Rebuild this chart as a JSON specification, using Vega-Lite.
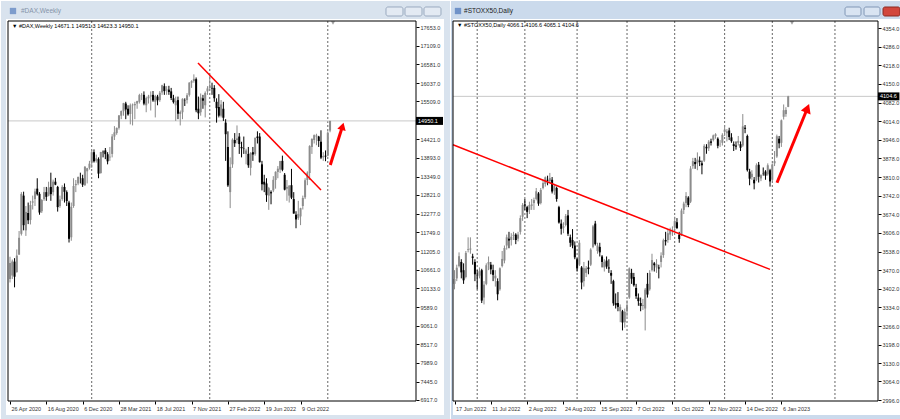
{
"$schema": "https://vega.github.io/schema/vega-lite/v6.json",
"padding": 0,
"autosize": {"type": "pad"},
"background": "#ffffff",
"spacing": 0,
"config": {"view": {"stroke": null}, "axis": {"labelFont": "Liberation Sans", "labelFontSize": 5.5, "labelColor": "#333333", "tickColor": "#000000", "grid": false, "domain": false, "tickSize": 3, "labelFlush": false, "labelOverlap": false}},
"datasets": {
"one": [{"k": 1}],
"dax": [
{"i":0,"o":10400,"h":11040,"l":10300,"c":10861},{"i":1,"o":10500,"h":10960,"l":10400,"c":10904},{"i":2,"o":10900,"h":11000,"l":10160,"c":10465},{"i":3,"o":10600,"h":11250,"l":10580,"c":11074},{"i":4,"o":11100,"h":11780,"l":11100,"c":11586},{"i":5,"o":11700,"h":12900,"l":11650,"c":12848},{"i":6,"o":12800,"h":12913,"l":11800,"c":11949},{"i":7,"o":11800,"h":12500,"l":11640,"c":12331},{"i":8,"o":12300,"h":12600,"l":11980,"c":12089},{"i":9,"o":12100,"h":12650,"l":11970,"c":12528},
{"i":10,"o":12600,"h":12800,"l":12400,"c":12633},{"i":11,"o":12700,"h":13000,"l":12500,"c":12920},{"i":12,"o":13000,"h":13300,"l":12800,"c":12838},{"i":13,"o":12850,"h":12900,"l":12250,"c":12313},{"i":14,"o":12350,"h":12700,"l":12300,"c":12674},{"i":15,"o":12700,"h":13050,"l":12650,"c":12901},{"i":16,"o":12900,"h":13050,"l":12650,"c":12765},{"i":17,"o":12800,"h":13200,"l":12780,"c":13033},{"i":18,"o":13050,"h":13460,"l":12650,"c":12842},{"i":19,"o":12900,"h":13260,"l":12800,"c":13202},
{"i":20,"o":13200,"h":13310,"l":13100,"c":13116},{"i":21,"o":13050,"h":13080,"l":12340,"c":12469},{"i":22,"o":12500,"h":12800,"l":12450,"c":12689},{"i":23,"o":12700,"h":13100,"l":12650,"c":13051},{"i":24,"o":13050,"h":13150,"l":12600,"c":12909},{"i":25,"o":12900,"h":12950,"l":12500,"c":12646},{"i":26,"o":12600,"h":12650,"l":11450,"c":11556},{"i":27,"o":11600,"h":12600,"l":11500,"c":12480},{"i":28,"o":12500,"h":13300,"l":12450,"c":13077},{"i":29,"o":13100,"h":13250,"l":12900,"c":13137},
{"i":30,"o":13150,"h":13350,"l":13100,"c":13335},{"i":31,"o":13300,"h":13460,"l":13150,"c":13298},{"i":32,"o":13300,"h":13400,"l":13050,"c":13114},{"i":33,"o":13100,"h":13650,"l":13080,"c":13631},{"i":34,"o":13500,"h":13600,"l":13150,"c":13587},{"i":35,"o":13600,"h":13800,"l":13550,"c":13719},{"i":36,"o":13750,"h":14100,"l":13600,"c":14049},{"i":37,"o":14050,"h":14130,"l":13750,"c":13787},{"i":38,"o":13800,"h":13980,"l":13750,"c":13873},{"i":39,"o":13850,"h":13900,"l":13300,"c":13433},
{"i":40,"o":13450,"h":14060,"l":13430,"c":14056},{"i":41,"o":14060,"h":14100,"l":13900,"c":14050},{"i":42,"o":14100,"h":14170,"l":13850,"c":13993},{"i":43,"o":13990,"h":14050,"l":13700,"c":13786},{"i":44,"o":13900,"h":14200,"l":13800,"c":13920},{"i":45,"o":14000,"h":14570,"l":13900,"c":14502},{"i":46,"o":14500,"h":14800,"l":14400,"c":14621},{"i":47,"o":14600,"h":14760,"l":14550,"c":14749},{"i":48,"o":14750,"h":15120,"l":14700,"c":15107},{"i":49,"o":15100,"h":15250,"l":15000,"c":15234},
{"i":50,"o":15230,"h":15470,"l":15100,"c":15460},{"i":51,"o":15450,"h":15500,"l":15000,"c":15280},{"i":52,"o":15300,"h":15400,"l":15100,"c":15136},{"i":53,"o":15150,"h":15450,"l":14850,"c":15400},{"i":54,"o":15400,"h":15450,"l":14820,"c":15417},{"i":55,"o":15400,"h":15500,"l":15000,"c":15437},{"i":56,"o":15450,"h":15530,"l":15300,"c":15520},{"i":57,"o":15500,"h":15730,"l":15450,"c":15693},{"i":58,"o":15690,"h":15750,"l":15550,"c":15700},{"i":59,"o":15700,"h":15800,"l":15400,"c":15448},
{"i":60,"o":15400,"h":15650,"l":15200,"c":15607},{"i":61,"o":15600,"h":15700,"l":15450,"c":15650},{"i":62,"o":15650,"h":15800,"l":15250,"c":15688},{"i":63,"o":15700,"h":15810,"l":15500,"c":15540},{"i":64,"o":15500,"h":15700,"l":15050,"c":15669},{"i":65,"o":15650,"h":15700,"l":15400,"c":15544},{"i":66,"o":15550,"h":15810,"l":15500,"c":15761},{"i":67,"o":15770,"h":15990,"l":15700,"c":15977},{"i":68,"o":15950,"h":16030,"l":15700,"c":15808},{"i":69,"o":15830,"h":15950,"l":15700,"c":15852},
{"i":70,"o":15850,"h":15960,"l":15700,"c":15781},{"i":71,"o":15800,"h":15900,"l":15550,"c":15609},{"i":72,"o":15600,"h":15700,"l":15450,"c":15490},{"i":73,"o":15400,"h":15650,"l":14950,"c":15531},{"i":74,"o":15550,"h":15650,"l":15000,"c":15156},{"i":75,"o":15150,"h":15250,"l":14820,"c":15206},{"i":76,"o":15200,"h":15600,"l":15000,"c":15587},{"i":77,"o":15550,"h":15600,"l":15380,"c":15543},{"i":78,"o":15550,"h":15750,"l":15450,"c":15688},{"i":79,"o":15700,"h":16060,"l":15650,"c":16054},
{"i":80,"o":16050,"h":16120,"l":15900,"c":16094},{"i":81,"o":16100,"h":16290,"l":16050,"c":16160},{"i":82,"o":16150,"h":16200,"l":15200,"c":15257},{"i":83,"o":15300,"h":15650,"l":15000,"c":15169},{"i":84,"o":15200,"h":15740,"l":15100,"c":15623},{"i":85,"o":15600,"h":15700,"l":15300,"c":15532},{"i":86,"o":15400,"h":15800,"l":15050,"c":15756},{"i":87,"o":15800,"h":15950,"l":15700,"c":15885},{"i":88,"o":15900,"h":16285,"l":15850,"c":15948},{"i":89,"o":15900,"h":16050,"l":15700,"c":15883},
{"i":90,"o":15900,"h":15980,"l":15500,"c":15603},{"i":91,"o":15500,"h":15600,"l":14900,"c":15318},{"i":92,"o":15350,"h":15720,"l":15050,"c":15100},{"i":93,"o":15100,"h":15550,"l":15050,"c":15425},{"i":94,"o":15300,"h":15500,"l":14950,"c":15042},{"i":95,"o":14900,"h":15000,"l":13800,"c":14567},{"i":96,"o":14200,"h":14650,"l":13050,"c":13094},{"i":97,"o":12900,"h":13900,"l":12440,"c":13628},{"i":98,"o":13700,"h":14450,"l":13600,"c":14413},{"i":99,"o":14400,"h":14600,"l":14200,"c":14306},
{"i":100,"o":14400,"h":14820,"l":14300,"c":14446},{"i":101,"o":14500,"h":14600,"l":14000,"c":14284},{"i":102,"o":14200,"h":14350,"l":13900,"c":14164},{"i":103,"o":14150,"h":14500,"l":14000,"c":14142},{"i":104,"o":14000,"h":14150,"l":13700,"c":14098},{"i":105,"o":14000,"h":14200,"l":13600,"c":13674},{"i":106,"o":13600,"h":14050,"l":13380,"c":14027},{"i":107,"o":14050,"h":14200,"l":13800,"c":13982},{"i":108,"o":14000,"h":14470,"l":13950,"c":14462},{"i":109,"o":14500,"h":14650,"l":14300,"c":14460},
{"i":110,"o":14500,"h":14600,"l":13750,"c":13762},{"i":111,"o":13700,"h":13800,"l":12950,"c":13127},{"i":112,"o":13200,"h":13400,"l":12900,"c":13118},{"i":113,"o":13150,"h":13300,"l":12620,"c":12813},{"i":114,"o":12800,"h":13050,"l":12390,"c":13015},{"i":115,"o":12900,"h":12950,"l":12550,"c":12865},{"i":116,"o":12950,"h":13360,"l":12900,"c":13254},{"i":117,"o":13250,"h":13500,"l":13000,"c":13484},{"i":118,"o":13480,"h":13650,"l":13300,"c":13574},{"i":119,"o":13550,"h":13800,"l":13450,"c":13795},
{"i":120,"o":13800,"h":13950,"l":13500,"c":13544},{"i":121,"o":13400,"h":13450,"l":12950,"c":12971},{"i":122,"o":13000,"h":13250,"l":12650,"c":13050},{"i":123,"o":12800,"h":13100,"l":12600,"c":13088},{"i":124,"o":13100,"h":13570,"l":12700,"c":12741},{"i":125,"o":12700,"h":12900,"l":12280,"c":12284},{"i":126,"o":12250,"h":12350,"l":11860,"c":12114},{"i":127,"o":12150,"h":12650,"l":12100,"c":12273},{"i":128,"o":12200,"h":12450,"l":11950,"c":12438},{"i":129,"o":12500,"h":12800,"l":12400,"c":12731},
{"i":130,"o":12750,"h":13300,"l":12700,"c":13243},{"i":131,"o":13250,"h":13500,"l":13100,"c":13460},{"i":132,"o":13450,"h":14250,"l":13250,"c":14225},{"i":133,"o":14200,"h":14450,"l":14000,"c":14431},{"i":134,"o":14400,"h":14560,"l":14300,"c":14541},{"i":135,"o":14500,"h":14580,"l":14250,"c":14529},{"i":136,"o":14500,"h":14520,"l":14200,"c":14371},{"i":137,"o":14350,"h":14680,"l":13850,"c":13893},{"i":138,"o":13900,"h":14050,"l":13800,"c":13941},{"i":139,"o":13950,"h":14100,"l":13790,"c":13924},
{"i":140,"o":13950,"h":14650,"l":13930,"c":14610},{"i":141,"o":14671.1,"h":14951.3,"l":14623.3,"c":14950.1}
],
"stoxx": [
{"i":0,"o":3420,"h":3470,"l":3400,"c":3438},{"i":1,"o":3440,"h":3490,"l":3430,"c":3479},{"i":2,"o":3485,"h":3535,"l":3480,"c":3521},{"i":3,"o":3500,"h":3510,"l":3440,"c":3462},{"i":4,"o":3470,"h":3495,"l":3420,"c":3433},{"i":5,"o":3445,"h":3540,"l":3440,"c":3533},{"i":6,"o":3545,"h":3590,"l":3535,"c":3547},{"i":7,"o":3545,"h":3590,"l":3530,"c":3549},{"i":8,"o":3520,"h":3530,"l":3490,"c":3515},{"i":9,"o":3500,"h":3510,"l":3430,"c":3455},
{"i":10,"o":3450,"h":3470,"l":3400,"c":3448},{"i":11,"o":3450,"h":3480,"l":3440,"c":3466},{"i":12,"o":3470,"h":3475,"l":3350,"c":3359},{"i":13,"o":3370,"h":3430,"l":3345,"c":3417},{"i":14,"o":3420,"h":3495,"l":3415,"c":3488},{"i":15,"o":3490,"h":3520,"l":3470,"c":3500},{"i":16,"o":3490,"h":3500,"l":3455,"c":3473},{"i":17,"o":3470,"h":3490,"l":3430,"c":3453},{"i":18,"o":3440,"h":3470,"l":3410,"c":3450},{"i":19,"o":3430,"h":3440,"l":3360,"c":3382},
{"i":20,"o":3400,"h":3480,"l":3395,"c":3477},{"i":21,"o":3485,"h":3540,"l":3480,"c":3511},{"i":22,"o":3505,"h":3560,"l":3495,"c":3551},{"i":23,"o":3560,"h":3600,"l":3545,"c":3590},{"i":24,"o":3585,"h":3610,"l":3550,"c":3578},{"i":25,"o":3580,"h":3605,"l":3560,"c":3592},{"i":26,"o":3595,"h":3610,"l":3580,"c":3599},{"i":27,"o":3600,"h":3605,"l":3565,"c":3580},{"i":28,"o":3585,"h":3610,"l":3575,"c":3600},{"i":29,"o":3610,"h":3670,"l":3600,"c":3660},
{"i":30,"o":3665,"h":3715,"l":3650,"c":3708},{"i":31,"o":3710,"h":3730,"l":3690,"c":3706},{"i":32,"o":3700,"h":3705,"l":3660,"c":3683},{"i":33,"o":3690,"h":3720,"l":3675,"c":3708},{"i":34,"o":3705,"h":3730,"l":3690,"c":3710},{"i":35,"o":3715,"h":3735,"l":3690,"c":3726},{"i":36,"o":3730,"h":3770,"l":3725,"c":3758},{"i":37,"o":3750,"h":3755,"l":3705,"c":3713},{"i":38,"o":3715,"h":3770,"l":3710,"c":3763},{"i":39,"o":3770,"h":3800,"l":3765,"c":3788},
{"i":40,"o":3785,"h":3812,"l":3775,"c":3809},{"i":41,"o":3800,"h":3815,"l":3780,"c":3797},{"i":42,"o":3795,"h":3825,"l":3790,"c":3806},{"i":43,"o":3800,"h":3810,"l":3750,"c":3757},{"i":44,"o":3760,"h":3785,"l":3745,"c":3777},{"i":45,"o":3770,"h":3775,"l":3720,"c":3730},{"i":46,"o":3700,"h":3705,"l":3640,"c":3644},{"i":47,"o":3640,"h":3655,"l":3600,"c":3621},{"i":48,"o":3625,"h":3645,"l":3605,"c":3630},{"i":49,"o":3635,"h":3675,"l":3630,"c":3668},
{"i":50,"o":3670,"h":3690,"l":3595,"c":3603},{"i":51,"o":3590,"h":3600,"l":3555,"c":3570},{"i":52,"o":3580,"h":3620,"l":3550,"c":3560},{"i":53,"o":3560,"h":3575,"l":3510,"c":3517},{"i":54,"o":3510,"h":3515,"l":3465,"c":3476},{"i":55,"o":3490,"h":3580,"l":3485,"c":3570},{"i":56,"o":3480,"h":3485,"l":3400,"c":3425},{"i":57,"o":3430,"h":3500,"l":3410,"c":3477},{"i":58,"o":3460,"h":3485,"l":3445,"c":3477},{"i":59,"o":3480,"h":3505,"l":3455,"c":3474},
{"i":60,"o":3490,"h":3550,"l":3485,"c":3545},{"i":61,"o":3555,"h":3635,"l":3550,"c":3630},{"i":62,"o":3640,"h":3650,"l":3560,"c":3565},{"i":63,"o":3540,"h":3570,"l":3530,"c":3560},{"i":64,"o":3555,"h":3570,"l":3520,"c":3535},{"i":65,"o":3520,"h":3525,"l":3480,"c":3500},{"i":66,"o":3480,"h":3510,"l":3465,"c":3500},{"i":67,"o":3505,"h":3520,"l":3475,"c":3483},{"i":68,"o":3480,"h":3510,"l":3460,"c":3476},{"i":69,"o":3460,"h":3470,"l":3420,"c":3450},
{"i":70,"o":3430,"h":3435,"l":3340,"c":3349},{"i":71,"o":3350,"h":3385,"l":3330,"c":3342},{"i":72,"o":3350,"h":3390,"l":3320,"c":3336},{"i":73,"o":3320,"h":3345,"l":3280,"c":3336},{"i":74,"o":3320,"h":3325,"l":3250,"c":3279},{"i":75,"o":3280,"h":3330,"l":3260,"c":3318},{"i":76,"o":3320,"h":3360,"l":3300,"c":3342},{"i":77,"o":3370,"h":3480,"l":3365,"c":3476},{"i":78,"o":3460,"h":3475,"l":3420,"c":3439},{"i":79,"o":3445,"h":3460,"l":3410,"c":3415},
{"i":80,"o":3405,"h":3420,"l":3365,"c":3375},{"i":81,"o":3370,"h":3385,"l":3340,"c":3357},{"i":82,"o":3350,"h":3370,"l":3320,"c":3339},{"i":83,"o":3340,"h":3365,"l":3325,"c":3343},{"i":84,"o":3330,"h":3405,"l":3250,"c":3399},{"i":85,"o":3420,"h":3460,"l":3370,"c":3381},{"i":86,"o":3400,"h":3470,"l":3395,"c":3460},{"i":87,"o":3470,"h":3530,"l":3465,"c":3507},{"i":88,"o":3495,"h":3500,"l":3465,"c":3488},{"i":89,"o":3480,"h":3510,"l":3460,"c":3492},
{"i":90,"o":3480,"h":3490,"l":3440,"c":3476},{"i":91,"o":3500,"h":3535,"l":3480,"c":3523},{"i":92,"o":3525,"h":3585,"l":3515,"c":3579},{"i":93,"o":3580,"h":3610,"l":3560,"c":3575},{"i":94,"o":3580,"h":3620,"l":3570,"c":3605},{"i":95,"o":3600,"h":3625,"l":3580,"c":3613},{"i":96,"o":3615,"h":3630,"l":3595,"c":3618},{"i":97,"o":3625,"h":3665,"l":3615,"c":3649},{"i":98,"o":3645,"h":3660,"l":3620,"c":3624},{"i":99,"o":3600,"h":3610,"l":3570,"c":3584},
{"i":100,"o":3600,"h":3695,"l":3595,"c":3688},{"i":101,"o":3690,"h":3720,"l":3675,"c":3713},{"i":102,"o":3715,"h":3755,"l":3700,"c":3741},{"i":103,"o":3735,"h":3740,"l":3700,"c":3708},{"i":104,"o":3720,"h":3850,"l":3715,"c":3841},{"i":105,"o":3850,"h":3880,"l":3840,"c":3868},{"i":106,"o":3865,"h":3880,"l":3840,"c":3857},{"i":107,"o":3860,"h":3900,"l":3835,"c":3874},{"i":108,"o":3870,"h":3885,"l":3850,"c":3865},{"i":109,"o":3860,"h":3870,"l":3820,"c":3853},
{"i":110,"o":3870,"h":3930,"l":3865,"c":3924},{"i":111,"o":3920,"h":3930,"l":3895,"c":3915},{"i":112,"o":3915,"h":3945,"l":3905,"c":3939},{"i":113,"o":3940,"h":3950,"l":3925,"c":3935},{"i":114,"o":3945,"h":3965,"l":3940,"c":3962},{"i":115,"o":3960,"h":3970,"l":3950,"c":3966},{"i":116,"o":3950,"h":3955,"l":3915,"c":3924},{"i":117,"o":3930,"h":3945,"l":3920,"c":3931},{"i":118,"o":3935,"h":3970,"l":3925,"c":3964},{"i":119,"o":3975,"h":4000,"l":3960,"c":3983},
{"i":120,"o":3970,"h":3985,"l":3940,"c":3977},{"i":121,"o":3980,"h":3990,"l":3945,"c":3956},{"i":122,"o":3955,"h":3970,"l":3935,"c":3941},{"i":123,"o":3930,"h":3940,"l":3905,"c":3923},{"i":124,"o":3925,"h":3940,"l":3910,"c":3921},{"i":125,"o":3935,"h":3960,"l":3925,"c":3942},{"i":126,"o":3930,"h":3940,"l":3905,"c":3917},{"i":127,"o":3925,"h":4040,"l":3920,"c":3995},{"i":128,"o":3990,"h":4000,"l":3970,"c":3986},{"i":129,"o":3960,"h":3965,"l":3830,"c":3835},
{"i":130,"o":3830,"h":3840,"l":3780,"c":3804},{"i":131,"o":3810,"h":3835,"l":3800,"c":3822},{"i":132,"o":3800,"h":3810,"l":3765,"c":3787},{"i":133,"o":3800,"h":3860,"l":3795,"c":3853},{"i":134,"o":3855,"h":3865,"l":3790,"c":3811},{"i":135,"o":3805,"h":3820,"l":3795,"c":3817},{"i":136,"o":3825,"h":3845,"l":3815,"c":3824},{"i":137,"o":3830,"h":3835,"l":3800,"c":3815},{"i":138,"o":3820,"h":3860,"l":3815,"c":3853},{"i":139,"o":3835,"h":3840,"l":3775,"c":3794},
{"i":140,"o":3800,"h":3860,"l":3795,"c":3856},{"i":141,"o":3860,"h":3905,"l":3850,"c":3868},{"i":142,"o":3885,"h":3965,"l":3880,"c":3959},{"i":143,"o":3950,"h":3960,"l":3915,"c":3933},{"i":144,"o":3935,"h":4020,"l":3920,"c":4017},{"i":145,"o":4030,"h":4075,"l":4020,"c":4054},{"i":146,"o":4040,"h":4065,"l":4030,"c":4055},{"i":147,"o":4066.1,"h":4106.6,"l":4065.1,"c":4104.6}
]
},
"hconcat": [
{
"width": 408, "height": 380,
"data": {"name": "one"},
"layer": [
{"mark": {"type": "rect", "fill": "#d9e3ee"},
 "encoding": {"x": {"datum": -3.965, "type": "quantitative", "scale": {"domain": [-0.881, 178.86], "nice": false, "zero": false, "padding": 0}}, "x2": {"datum": 193.83},
  "y": {"datum": 18401.4, "type": "quantitative", "scale": {"domain": [6888.2, 17825.7], "nice": false, "zero": false}}, "y2": {"datum": 17883.3}}},
{"mark": {"type": "rect", "fill": "#d9e3ee"},
 "encoding": {"x": {"datum": -3.965, "type": "quantitative"}, "x2": {"datum": -1.762},
  "y": {"datum": 17883.3, "type": "quantitative"}, "y2": {"datum": 6341.3}}},
{"mark": {"type": "rect", "fill": "#d9e3ee"},
 "encoding": {"x": {"datum": 191.19, "type": "quantitative"}, "x2": {"datum": 193.83},
  "y": {"datum": 17883.3, "type": "quantitative"}, "y2": {"datum": 6341.3}}},
{"mark": {"type": "rect", "fill": "#d9e3ee"},
 "encoding": {"x": {"datum": -3.965, "type": "quantitative"}, "x2": {"datum": 193.83},
  "y": {"datum": 6485.3, "type": "quantitative"}, "y2": {"datum": 6341.3}}},
{"mark": {"type": "point", "shape": "square", "filled": true, "size": 40, "color": "#7d9ccc", "opacity": 1},
 "encoding": {"x": {"datum": 1.32, "type": "quantitative"}, "y": {"datum": 18113.5, "type": "quantitative"}}},
{"mark": {"type": "text", "text": "#DAX,Weekly", "align": "left", "baseline": "middle", "font": "Liberation Sans", "fontSize": 6.5, "color": "#8593a8"},
 "encoding": {"x": {"datum": 4.85, "type": "quantitative"}, "y": {"datum": 18113.5, "type": "quantitative"}}},
{"mark": {"type": "rect", "fill": "#e3eaf3", "stroke": "#9aaabf", "strokeWidth": 1, "cornerRadius": 2},
 "encoding": {"x": {"datum": 165.64, "type": "quantitative"}, "x2": {"datum": 173.13}, "y": {"datum": 18228.7, "type": "quantitative"}, "y2": {"datum": 17969.6}}},
{"mark": {"type": "rect", "fill": "#e3eaf3", "stroke": "#9aaabf", "strokeWidth": 1, "cornerRadius": 2},
 "encoding": {"x": {"datum": 174.01, "type": "quantitative"}, "x2": {"datum": 181.5}, "y": {"datum": 18228.7, "type": "quantitative"}, "y2": {"datum": 17969.6}}},
{"mark": {"type": "rect", "fill": "#e3eaf3", "stroke": "#9aaabf", "strokeWidth": 1, "cornerRadius": 2},
 "encoding": {"x": {"datum": 182.38, "type": "quantitative"}, "x2": {"datum": 189.87}, "y": {"datum": 18228.7, "type": "quantitative"}, "y2": {"datum": 17969.6}}},
{"data": {"values": [{"i": 36}, {"i": 88}, {"i": 140}]},
 "mark": {"type": "rule", "color": "#666666", "strokeWidth": 1, "strokeDash": [2, 2]},
 "encoding": {"x": {"field": "i", "type": "quantitative"}}},
{"mark": {"type": "rule", "color": "#c8c8c8", "strokeWidth": 1},
 "encoding": {"y": {"datum": 14950.1, "type": "quantitative"}}},
{"data": {"name": "dax"},
 "mark": {"type": "rule", "strokeWidth": 1},
 "encoding": {"x": {"field": "i", "type": "quantitative"},
  "y": {"field": "l", "type": "quantitative"}, "y2": {"field": "h"},
  "color": {"condition": {"test": "datum.c >= datum.o", "value": "#8c8c8c"}, "value": "#000000"}}},
{"data": {"name": "dax"},
 "mark": {"type": "bar", "size": 2},
 "encoding": {"x": {"field": "i", "type": "quantitative", "scale": {"domain": [-0.881, 178.86], "nice": false, "zero": false, "padding": 0},
   "axis": {"orient": "bottom", "values": [0, 16, 32, 48, 64, 80, 96, 112, 128], "tickCount": 50, "labelExpr": "['26 Apr 2020','16 Aug 2020','6 Dec 2020','28 Mar 2021','18 Jul 2021','7 Nov 2021','27 Feb 2022','19 Jun 2022','9 Oct 2022'][datum.value/16]", "title": null, "grid": false, "domain": false, "ticks": true, "tickSize": 3, "labelAlign": "left", "labelPadding": 2, "labelOffset": 1, "labelOverlap": false, "labelFlush": false, "labelBound": false}},
  "y": {"field": "o", "type": "quantitative", "scale": {"domain": [6888.2, 17825.7], "nice": false, "zero": false},
   "axis": {"orient": "right", "values": [6917, 7445, 7989, 8517, 9061, 9589, 10133, 10661, 11205, 11749, 12277, 12821, 13349, 13893, 14421, 15509, 16037, 16581, 17109, 17653], "tickCount": 50, "format": ".1f", "title": null, "grid": false, "domain": false, "tickSize": 3, "labelPadding": 1, "labelAlign": "left", "labelBaseline": "middle", "labelOverlap": false, "labelFlush": false, "labelBound": false}},
  "y2": {"field": "c"},
  "color": {"condition": {"test": "datum.c >= datum.o", "value": "#8c8c8c"}, "value": "#000000"}}},
{"data": {"values": [{"i": 82.82, "v": 16616.8}, {"i": 137.0, "v": 12961.4}]},
 "mark": {"type": "line", "color": "#ff0000", "strokeWidth": 1.5},
 "encoding": {"x": {"field": "i", "type": "quantitative"}, "y": {"field": "v", "type": "quantitative"}}},
{"data": {"values": [{"i": 141.1, "v": 13681}, {"i": 146.48, "v": 14795}]},
 "mark": {"type": "line", "color": "#ff0000", "strokeWidth": 3},
 "encoding": {"x": {"field": "i", "type": "quantitative"}, "y": {"field": "v", "type": "quantitative"}}},
{"mark": {"type": "point", "shape": "triangle-up", "filled": true, "size": 75, "angle": 16, "color": "#ff0000", "opacity": 1},
 "encoding": {"x": {"datum": 146.48, "type": "quantitative"}, "y": {"datum": 14795, "type": "quantitative"}}},
{"mark": {"type": "text", "text": "▼ #DAX,Weekly  14671.1 14951.3 14623.3 14950.1", "align": "left", "baseline": "middle", "font": "Liberation Sans", "fontSize": 5.5, "color": "#000000"},
 "encoding": {"x": {"datum": 0.881, "type": "quantitative"}, "y": {"datum": 17696, "type": "quantitative"}}},
{"mark": {"type": "point", "shape": "triangle-down", "filled": true, "size": 16, "color": "#a0a0a0", "opacity": 1},
 "encoding": {"x": {"datum": 142.29, "type": "quantitative"}, "y": {"datum": 17768, "type": "quantitative"}}},
{"mark": {"type": "rect", "fill": "#000000"},
 "encoding": {"x": {"datum": 178.86, "type": "quantitative"}, "x2": {"datum": 190.75}, "y": {"datum": 15065, "type": "quantitative"}, "y2": {"datum": 14835}}},
{"mark": {"type": "text", "text": "14950.1", "align": "left", "baseline": "middle", "font": "Liberation Sans", "fontSize": 5.5, "color": "#ffffff"},
 "encoding": {"x": {"datum": 179.74, "type": "quantitative"}, "y": {"datum": 14950.1, "type": "quantitative"}}},
{"mark": {"type": "rect", "fill": null, "stroke": "#000000", "strokeWidth": 1},
 "encoding": {"x": {"datum": -0.881, "type": "quantitative"}, "x2": {"datum": 178.86}, "y": {"datum": 17825.7, "type": "quantitative"}, "y2": {"datum": 6888.2}}}
]
},
{
"width": 425, "height": 380,
"data": {"name": "one"},
"layer": [
{"mark": {"type": "rect", "fill": "#cbdaec"},
 "encoding": {"x": {"datum": -1.542, "type": "quantitative", "scale": {"domain": [-0.661, 186.56], "nice": false, "zero": false, "padding": 0}}, "x2": {"datum": 197.14},
  "y": {"datum": 4452.7, "type": "quantitative", "scale": {"domain": [2992.35, 4379.7], "nice": false, "zero": false}}, "y2": {"datum": 4387.0}}},
{"mark": {"type": "rect", "fill": "#cbdaec"},
 "encoding": {"x": {"datum": -1.542, "type": "quantitative"}, "x2": {"datum": -0.661}, "y": {"datum": 4387.0, "type": "quantitative"}, "y2": {"datum": 2923.0}}},
{"mark": {"type": "rect", "fill": "#cbdaec"},
 "encoding": {"x": {"datum": 196.26, "type": "quantitative"}, "x2": {"datum": 197.14}, "y": {"datum": 4387.0, "type": "quantitative"}, "y2": {"datum": 2923.0}}},
{"mark": {"type": "rect", "fill": "#cbdaec"},
 "encoding": {"x": {"datum": -1.542, "type": "quantitative"}, "x2": {"datum": 197.14}, "y": {"datum": 2941.2, "type": "quantitative"}, "y2": {"datum": 2923.0}}},
{"mark": {"type": "point", "shape": "square", "filled": true, "size": 40, "color": "#6f92c8", "opacity": 1},
 "encoding": {"x": {"datum": 1.54, "type": "quantitative"}, "y": {"datum": 4416.2, "type": "quantitative"}}},
{"mark": {"type": "text", "text": "#STOXX50,Daily", "align": "left", "baseline": "middle", "font": "Liberation Sans", "fontSize": 6.5, "color": "#1a1a1a"},
 "encoding": {"x": {"datum": 4.19, "type": "quantitative"}, "y": {"datum": 4416.2, "type": "quantitative"}}},
{"mark": {"type": "rect", "fill": "#d9e4f2", "stroke": "#8197b6", "strokeWidth": 1, "cornerRadius": 2},
 "encoding": {"x": {"datum": 172.03, "type": "quantitative"}, "x2": {"datum": 179.07}, "y": {"datum": 4430.8, "type": "quantitative"}, "y2": {"datum": 4398.0}}},
{"mark": {"type": "rect", "fill": "#d9e4f2", "stroke": "#8197b6", "strokeWidth": 1, "cornerRadius": 2},
 "encoding": {"x": {"datum": 180.4, "type": "quantitative"}, "x2": {"datum": 187.44}, "y": {"datum": 4430.8, "type": "quantitative"}, "y2": {"datum": 4398.0}}},
{"mark": {"type": "rect", "fill": "#d2473d", "stroke": "#8a2a22", "strokeWidth": 1, "cornerRadius": 2},
 "encoding": {"x": {"datum": 188.77, "type": "quantitative"}, "x2": {"datum": 196.26}, "y": {"datum": 4430.8, "type": "quantitative"}, "y2": {"datum": 4398.0}}},
{"data": {"values": [{"i": 10}, {"i": 31}, {"i": 54}, {"i": 76}, {"i": 97}, {"i": 119}, {"i": 140}, {"i": 167.6}]},
 "mark": {"type": "rule", "color": "#666666", "strokeWidth": 1, "strokeDash": [2, 2]},
 "encoding": {"x": {"field": "i", "type": "quantitative"}}},
{"mark": {"type": "rule", "color": "#c8c8c8", "strokeWidth": 1},
 "encoding": {"y": {"datum": 4104.6, "type": "quantitative"}}},
{"data": {"name": "stoxx"},
 "mark": {"type": "rule", "strokeWidth": 1},
 "encoding": {"x": {"field": "i", "type": "quantitative"},
  "y": {"field": "l", "type": "quantitative"}, "y2": {"field": "h"},
  "color": {"condition": {"test": "datum.c >= datum.o", "value": "#8c8c8c"}, "value": "#000000"}}},
{"data": {"name": "stoxx"},
 "mark": {"type": "bar", "size": 2},
 "encoding": {"x": {"field": "i", "type": "quantitative", "scale": {"domain": [-0.661, 186.56], "nice": false, "zero": false, "padding": 0},
   "axis": {"orient": "bottom", "values": [0, 16, 32, 48, 64, 80, 96, 112, 128, 144], "tickCount": 50, "labelExpr": "['17 Jun 2022','11 Jul 2022','2 Aug 2022','24 Aug 2022','15 Sep 2022','7 Oct 2022','31 Oct 2022','22 Nov 2022','14 Dec 2022','6 Jan 2023'][datum.value/16]", "title": null, "grid": false, "domain": false, "ticks": true, "tickSize": 3, "labelAlign": "left", "labelPadding": 2, "labelOffset": 1, "labelOverlap": false, "labelFlush": false, "labelBound": false}},
  "y": {"field": "o", "type": "quantitative", "scale": {"domain": [2992.35, 4379.7], "nice": false, "zero": false},
   "axis": {"orient": "right", "values": [2996, 3064, 3130, 3198, 3266, 3334, 3402, 3470, 3538, 3606, 3674, 3742, 3810, 3878, 3946, 4014, 4082, 4150, 4218, 4286, 4354], "tickCount": 50, "format": ".1f", "title": null, "grid": false, "domain": false, "tickSize": 3, "labelPadding": 1, "labelAlign": "left", "labelBaseline": "middle", "labelOverlap": false, "labelFlush": false, "labelBound": false}},
  "y2": {"field": "c"},
  "color": {"condition": {"test": "datum.c >= datum.o", "value": "#8c8c8c"}, "value": "#000000"}}},
{"data": {"values": [{"i": -0.661, "v": 3927.7}, {"i": 139.0, "v": 3472.8}]},
 "mark": {"type": "line", "color": "#ff0000", "strokeWidth": 1.5},
 "encoding": {"x": {"field": "i", "type": "quantitative"}, "y": {"field": "v", "type": "quantitative"}}},
{"data": {"values": [{"i": 142.07, "v": 3789.3}, {"i": 155.46, "v": 4061}]},
 "mark": {"type": "line", "color": "#ff0000", "strokeWidth": 3},
 "encoding": {"x": {"field": "i", "type": "quantitative"}, "y": {"field": "v", "type": "quantitative"}}},
{"mark": {"type": "point", "shape": "triangle-up", "filled": true, "size": 110, "angle": 22, "color": "#ff0000", "opacity": 1},
 "encoding": {"x": {"datum": 155.46, "type": "quantitative"}, "y": {"datum": 4061, "type": "quantitative"}}},
{"mark": {"type": "text", "text": "▼ #STOXX50,Daily  4066.1 4106.6 4065.1 4104.6", "align": "left", "baseline": "middle", "font": "Liberation Sans", "fontSize": 5.5, "color": "#000000"},
 "encoding": {"x": {"datum": 1.1, "type": "quantitative"}, "y": {"datum": 4363.3, "type": "quantitative"}}},
{"mark": {"type": "point", "shape": "triangle-down", "filled": true, "size": 16, "color": "#a0a0a0", "opacity": 1},
 "encoding": {"x": {"datum": 148.68, "type": "quantitative"}, "y": {"datum": 4372.4, "type": "quantitative"}}},
{"mark": {"type": "rect", "fill": "#000000"},
 "encoding": {"x": {"datum": 186.56, "type": "quantitative"}, "x2": {"datum": 196.0}, "y": {"datum": 4119, "type": "quantitative"}, "y2": {"datum": 4090}}},
{"mark": {"type": "text", "text": "4104.6", "align": "left", "baseline": "middle", "font": "Liberation Sans", "fontSize": 5.5, "color": "#ffffff"},
 "encoding": {"x": {"datum": 187.44, "type": "quantitative"}, "y": {"datum": 4104.6, "type": "quantitative"}}},
{"mark": {"type": "rect", "fill": null, "stroke": "#000000", "strokeWidth": 1},
 "encoding": {"x": {"datum": -0.661, "type": "quantitative"}, "x2": {"datum": 186.56}, "y": {"datum": 4379.7, "type": "quantitative"}, "y2": {"datum": 2992.35}}}
]
}
]
}
